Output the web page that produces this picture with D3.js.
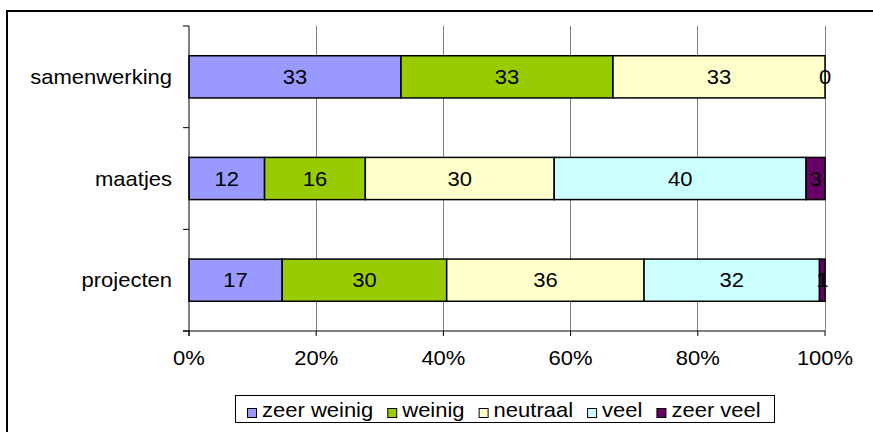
<!DOCTYPE html>
<html><head><meta charset="utf-8">
<script src="https://cdn.jsdelivr.net/npm/d3@7"></script>
<style>body{margin:0;background:#fff}svg{display:block}text{font-family:"Liberation Sans",Arial,sans-serif;fill:#000}</style>
</head><body><svg id="c" width="873" height="432"></svg>
<script>
const categories = ["samenwerking", "maatjes", "projecten"];
const seriesNames = ["zeer weinig", "weinig", "neutraal", "veel", "zeer veel"];
const zeerWeinig = [33, 12, 17];
const weinig = [33, 16, 30];
const neutraal = [33, 30, 36];
const veel = [0, 40, 32];
const zeerVeel = [null, 3, 1];
const colors = ["#9999FF", "#99CC00", "#FFFFCC", "#CCFFFF", "#660066"];
const xTicks = [0, 0.2, 0.4, 0.6, 0.8, 1];

const FS = 20, SX = 1.1;
function txt(sel, x, y, s, anchor) {
  return sel.append("text").attr("transform", `translate(${x},${y}) scale(${SX},1)`)
    .attr("text-anchor", anchor || "start").attr("font-size", FS).text(s);
}

const svg = d3.select("#c");
const m = {l: 189, r: 825, t: 26, b: 331};
svg.append("rect").attr("x", 7).attr("y", 11).attr("width", 880).attr("height", 440)
  .attr("fill", "none").attr("stroke", "#000").attr("stroke-width", 2);

const x = d3.scaleLinear().domain([0, 1]).range([m.l, m.r]);
const y = d3.scaleBand().domain(categories).range([m.t, m.b]).paddingInner(0.585).paddingOuter(0.2925);

svg.append("g").selectAll("line").data(xTicks.slice(1)).join("line")
  .attr("x1", d => x(d)).attr("x2", d => x(d)).attr("y1", m.t).attr("y2", m.b)
  .attr("stroke", "#808080").attr("stroke-width", 1).attr("shape-rendering", "crispEdges");

const all = [zeerWeinig, weinig, neutraal, veel, zeerVeel];
const rows = categories.map((c, i) => {
  const vals = all.map(s => s[i]);
  const tot = d3.sum(vals.map(v => v || 0));
  let acc = 0;
  return vals.map((v, k) => {
    const x0 = acc / tot; acc += (v || 0); const x1 = acc / tot;
    return {cat: c, k, v, x0, x1};
  });
});

const g = svg.append("g");
rows.forEach(r => r.forEach(d => {
  if (d.v === null || d.x1 <= d.x0) return;
  g.append("rect").attr("x", x(d.x0)).attr("y", y(d.cat))
    .attr("width", x(d.x1) - x(d.x0)).attr("height", y.bandwidth())
    .attr("fill", colors[d.k]).attr("stroke", "#000").attr("stroke-width", 1.5);
}));
rows.forEach(r => r.forEach(d => {
  if (d.v === null) return;
  txt(g, x((d.x0 + d.x1) / 2), y(d.cat) + y.bandwidth() / 2 + 7, d.v, "middle");
}));

const yAxis = svg.append("g").attr("transform", `translate(${m.l},0)`);
yAxis.append("line").attr("x1", 0).attr("x2", 0).attr("y1", m.t).attr("y2", m.b + 5).attr("stroke", "#000");
const step = (m.b - m.t) / categories.length;
yAxis.selectAll("line.t").data(d3.range(categories.length + 1)).join("line").attr("class", "t")
  .attr("x1", -6).attr("x2", 0).attr("y1", i => m.t + i * step).attr("y2", i => m.t + i * step).attr("stroke", "#000");
categories.forEach(c => txt(yAxis, -17, y(c) + y.bandwidth() / 2 + 7, c, "end"));

const xAxis = svg.append("g").attr("transform", `translate(0,${m.b})`);
xAxis.append("line").attr("x1", m.l - 6).attr("x2", m.r).attr("y1", 0).attr("y2", 0).attr("stroke", "#000");
xAxis.selectAll("line.t").data(xTicks).join("line").attr("class", "t")
  .attr("x1", d => x(d)).attr("x2", d => x(d)).attr("y1", 0).attr("y2", 5).attr("stroke", "#000");
const fmt = d3.format(".0%");
xTicks.forEach(d => txt(xAxis, x(d), 34, fmt(d), "middle"));

const lg = svg.append("g");
lg.append("rect").attr("x", 235.5).attr("y", 395.5).attr("width", 539).attr("height", 27)
  .attr("fill", "#fff").attr("stroke", "#000");
let lx = 247;
seriesNames.forEach((n, k) => {
  lg.append("rect").attr("x", lx + 0.5).attr("y", 408.5).attr("width", 9).attr("height", 9)
    .attr("fill", colors[k]).attr("stroke", "#000");
  const t = txt(lg, lx + 15, 417, n);
  lx += 15 + t.node().getComputedTextLength() * SX + 14;
});
</script></body></html>
